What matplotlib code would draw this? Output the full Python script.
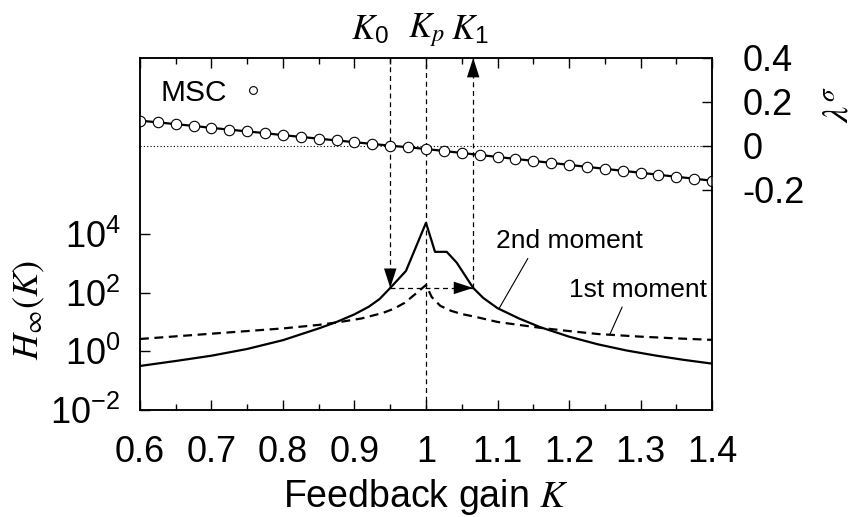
import numpy as np
import matplotlib
matplotlib.use('Agg')
import matplotlib.pyplot as plt
from matplotlib.ticker import MultipleLocator, FixedLocator, NullLocator

plt.rcParams['font.family'] = ['Liberation Sans', 'DejaVu Sans']
plt.rcParams['mathtext.fontset'] = 'stix'

# MSC exponent lambda^sigma (right axis)
k_msc = [0.6 + 0.025 * i for i in range(33)]
lam_msc = [0.115, 0.107, 0.099, 0.091, 0.082, 0.074, 0.066, 0.058, 0.049, 0.041,
           0.033, 0.025, 0.017, 0.009, 0.001, -0.006, -0.014, -0.023, -0.032, -0.041,
           -0.050, -0.059, -0.068, -0.077, -0.086, -0.095, -0.104, -0.113, -0.122,
           -0.131, -0.140, -0.149, -0.158]

# H_inf(K), given as log10 values
k_2nd = [0.6, 0.65, 0.7, 0.75, 0.8, 0.825, 0.85, 0.875, 0.9, 0.92, 0.935, 0.95,
         0.972, 1.0, 1.0126, 1.029, 1.043, 1.066, 1.08, 1.1, 1.13, 1.16, 1.2,
         1.24, 1.28, 1.32, 1.36, 1.4]
log_2nd = [-0.5, -0.33, -0.15, 0.08, 0.38, 0.58, 0.78, 1.0, 1.26, 1.52, 1.78, 2.16,
           2.74, 4.38, 3.39, 3.39, 3.02, 2.16, 1.82, 1.47, 1.12, 0.82, 0.5,
           0.24, 0.03, -0.14, -0.29, -0.42]

k_1st = [0.6, 0.65, 0.7, 0.75, 0.8, 0.85, 0.88, 0.91, 0.94, 0.955, 0.97, 0.985, 1.0,
         1.008, 1.02, 1.035, 1.05, 1.07, 1.1, 1.13, 1.16, 1.2, 1.24, 1.3, 1.35, 1.4]
log_1st = [0.42, 0.51, 0.6, 0.69, 0.78, 0.9, 1.0, 1.12, 1.31, 1.45, 1.65, 1.95, 2.26,
           1.85, 1.55, 1.38, 1.27, 1.17, 1.0, 0.9, 0.8, 0.69, 0.59, 0.5, 0.44, 0.39]

K0, KP, K1 = 0.95, 1.0, 1.066
H_LEVEL = 10 ** 2.16

fig = plt.figure(figsize=(8.62, 5.17), dpi=100)
ax = fig.add_axes([0.1624, 0.207, 0.6636, 0.681])
ax2 = ax.twinx()

# H curves
ax.plot(k_2nd, 10 ** np.array(log_2nd), color='black', lw=1.6)
ax.plot(k_1st, 10 ** np.array(log_1st), color='black', lw=1.6, dashes=(4, 2.5))

ax.set_xlim(0.6, 1.4)
ax.set_yscale('log')
ax.set_ylim(1e-2, 1e10)
ax.yaxis.set_major_locator(FixedLocator([1e-2, 1, 1e2, 1e4]))
ax.yaxis.set_minor_locator(NullLocator())
ax.set_yticklabels([r'$\mathregular{10^{-2}}$', r'$\mathregular{10^{0}}$',
                    r'$\mathregular{10^{2}}$', r'$\mathregular{10^{4}}$'])
ax.xaxis.set_major_locator(MultipleLocator(0.1))
ax.xaxis.set_minor_locator(MultipleLocator(0.05))
ax.set_xticks([0.6, 0.7, 0.8, 0.9, 1.0, 1.1, 1.2, 1.3, 1.4])
ax.set_xticklabels(['0.6', '0.7', '0.8', '0.9', '1', '1.1', '1.2', '1.3', '1.4'])
ax.tick_params(axis='x', which='both', direction='in', top=True, labelsize=26, pad=18)
ax.tick_params(axis='y', which='both', direction='in', right=False, labelsize=26, pad=14)
ax.tick_params(which='major', length=7, width=1)
ax.tick_params(which='minor', length=4, width=1)

# guide lines and arrows
dash_kw = dict(color='black', lw=0.9, dashes=(4, 3))
ax.axvline(KP, **dash_kw)
ax.plot([K0, K0], [1e10, H_LEVEL], **dash_kw)
ax.plot([K0, K1], [H_LEVEL, H_LEVEL], **dash_kw)
ax.plot([K1, K1], [H_LEVEL, 1e10], **dash_kw)
head = dict(arrowstyle='-|>,head_length=1.4,head_width=0.45', color='black', lw=0,
            shrinkA=0, shrinkB=0)
ax.annotate('', xy=(K0, H_LEVEL), xytext=(K0, 10 ** 2.9), arrowprops=head)
ax.annotate('', xy=(K1, H_LEVEL), xytext=(K1 - 0.03, H_LEVEL), arrowprops=head)
ax.annotate('', xy=(K1, 1e10), xytext=(K1, 10 ** 9.2), arrowprops=head)

# curve labels
ax.annotate('2nd moment', xy=(1.102, 10 ** 1.45), xytext=(1.2, 10 ** 3.75),
            ha='center', va='center', fontsize=19,
            arrowprops=dict(arrowstyle='-', lw=0.8, color='black', relpos=(0.24, 0),
                            shrinkA=2, shrinkB=0))
ax.annotate('1st moment', xy=(1.257, 10 ** 0.57), xytext=(1.297, 10 ** 2.1),
            ha='center', va='center', fontsize=19,
            arrowprops=dict(arrowstyle='-', lw=0.8, color='black', relpos=(0.4, 0),
                            shrinkA=2, shrinkB=0))

# K labels above the frame
xform = ax.get_xaxis_transform()
ax.text(K0 - 0.028, 1.08, r'$K_\mathregular{0}$', transform=xform, ha='center', va='center', fontsize=25)
ax.text(KP, 1.08, r'$K_p$', transform=xform, ha='center', va='center', fontsize=25)
ax.text(K1 - 0.005, 1.08, r'$K_\mathregular{1}$', transform=xform, ha='center', va='center', fontsize=25)

# MSC on the right axis
ax2.axhline(0, color='black', lw=0.8, ls=(0, (1, 2)))
ax2.plot(k_msc, lam_msc, color='black', lw=1.6)
ax2.plot(k_msc, lam_msc, ls='none', marker='o', ms=7.5, mfc='white', mec='black', mew=0.8,
         label='MSC')
ax2.set_ylim(-1.2, 0.4)
ax2.set_yticks([-0.2, 0, 0.2, 0.4])
ax2.set_yticklabels(['-0.2', '0', '0.2', '0.4'])
ax2.tick_params(axis='y', direction='in', labelsize=26, pad=22, length=7, width=1)
leg = ax2.legend(loc='upper left', bbox_to_anchor=(0.0, 1.0), markerfirst=False,
                 frameon=False, fontsize=21.5, handlelength=1.0, markerscale=0.75,
                 handletextpad=0.35, borderaxespad=0.3)

for a in (ax, ax2):
    for s in a.spines.values():
        s.set_linewidth(1.1)

ax.set_xlabel(r'Feedback gain $K$', fontsize=27, labelpad=5)
fig.text(29 / 862, 1 - 310 / 517, r'$H_\infty(K)$', rotation=90, ha='center', va='center',
         fontsize=26)
fig.text(838 / 862, 1 - 105 / 517, r'$\lambda^\sigma$', rotation=90, ha='center', va='center',
         fontsize=26)

fig.savefig('out.png', dpi=100)
